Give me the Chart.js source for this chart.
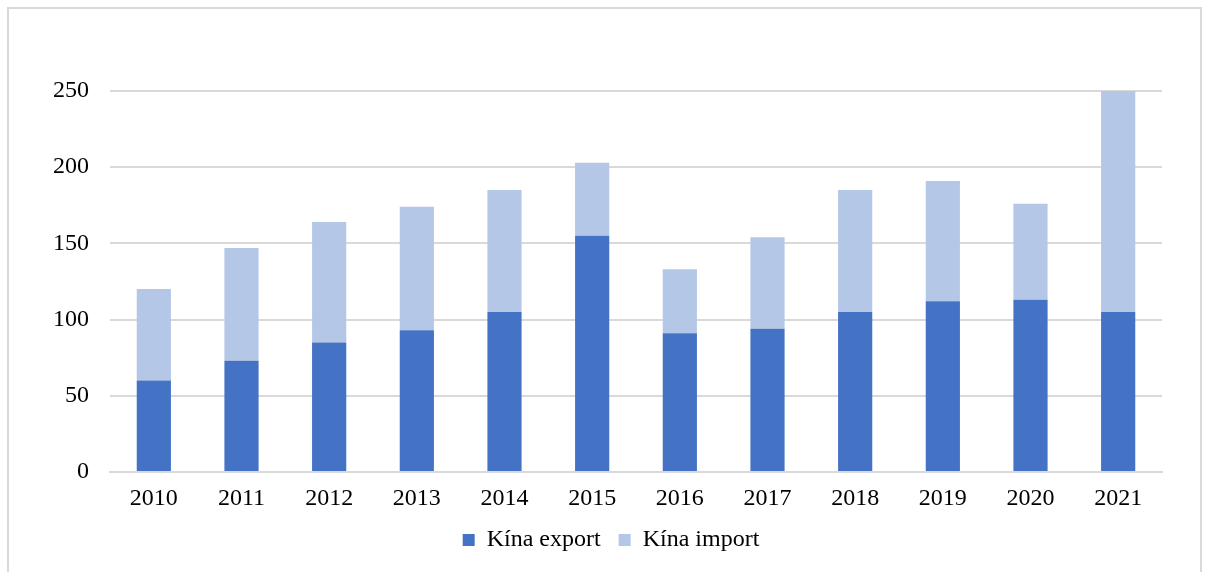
<!DOCTYPE html>
<html>
<head>
<meta charset="utf-8">
<script src="https://cdn.jsdelivr.net/npm/chart.js@4/dist/chart.umd.min.js"></script>
<style>
  html, body { margin: 0; padding: 0; background: #fff; }
  .frame {
    position: absolute; left: 7px; top: 7px; width: 1195px; height: 600px;
    border: 2px solid #d9d9d9; box-sizing: border-box;
  }
  .chart-container { position: absolute; left: 0; top: 0; width: 1206px; height: 572px; }
</style>
</head>
<body>
<div class="frame"></div>
<div class="chart-container">
  <canvas id="barChart" width="1206" height="572"></canvas>
</div>
<script>
const years = ['2010', '2011', '2012', '2013', '2014', '2015', '2016', '2017', '2018', '2019', '2020', '2021'];
const exportValues = [60, 73, 85, 93, 105, 155, 91, 94, 105, 112, 113, 105];
const importValues = [60, 74, 79, 81, 80, 48, 42, 60, 80, 79, 63, 145];
const seriesNames = ['Kína export', 'Kína import'];
const yTicks = [0, 50, 100, 150, 200, 250];

const serif = "'Liberation Serif', 'Times New Roman', serif";

// legend is centred on the whole frame, not on the plot
const legendShift = {
  id: 'legendShift',
  afterLayout(chart) {
    chart.legend.left += 30;
    chart.legend.right += 30;
  },
};

const barChart = new Chart(document.getElementById('barChart'), {
  type: 'bar',
  data: {
    labels: years,
    datasets: [
      {
        label: seriesNames[0],
        data: exportValues,
        backgroundColor: '#4472c4',
        barPercentage: 0.39,
        categoryPercentage: 1,
      },
      {
        label: seriesNames[1],
        data: importValues,
        backgroundColor: '#b4c7e7',
        barPercentage: 0.39,
        categoryPercentage: 1,
      },
    ],
  },
  options: {
    responsive: false,
    animation: false,
    layout: { padding: { top: 91, right: 44, bottom: 10, left: 0 } },
    scales: {
      x: {
        stacked: true,
        grid: { display: false },
        border: { color: '#d9d9d9', width: 2 },
        ticks: { color: '#000', font: { family: serif, size: 24 }, padding: 4 },
        afterFit: (scale) => { scale.height = 38; },
      },
      y: {
        stacked: true,
        min: 0,
        max: 250,
        afterBuildTicks: (scale) => { scale.ticks = yTicks.map((v) => ({ value: v })); },
        afterFit: (scale) => { scale.width = 110; },
        grid: { color: '#d9d9d9', lineWidth: 2, drawTicks: false },
        border: { display: false },
        ticks: { color: '#000', font: { family: serif, size: 24 }, padding: 21 },
      },
    },
    plugins: {
      legend: {
        position: 'bottom',
        labels: {
          color: '#000',
          font: { family: serif, size: 24 },
          boxWidth: 12,
          boxHeight: 12,
          padding: 18,
        },
      },
      tooltip: { enabled: false },
      title: { display: false },
    },
  },
  plugins: [legendShift],
});
</script>
</body>
</html>
